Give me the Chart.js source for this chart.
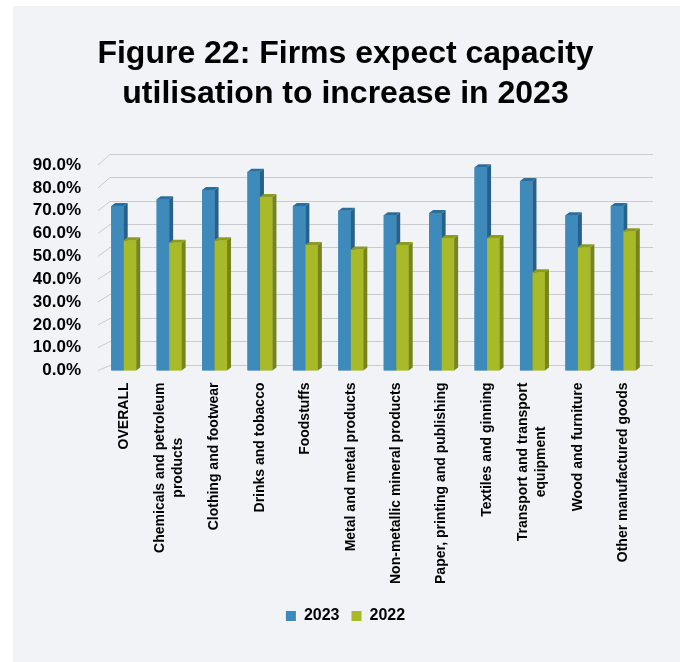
<!DOCTYPE html>
<html lang="en">
<head>
<meta charset="UTF-8">
<meta name="viewport" content="width=device-width, initial-scale=1.0">
<title>Figure 22: Capacity utilisation</title>
<style>
    html, body {
        margin: 0;
        padding: 0;
        background: #ffffff;
    }
    #panel {
        position: absolute;
        left: 13px;
        top: 6px;
        width: 667px;
        height: 656px;
        background: #f2f3f7;
    }
</style>
<script src="https://cdn.jsdelivr.net/npm/chart.js"></script>
</head>
<body>
<div id="panel">
    <canvas id="capacity-chart" width="667" height="656"></canvas>
</div>
<script>
// sectors and expected capacity utilisation (%)
const sectors = [
    'OVERALL',
    ['Chemicals and petroleum', 'products'],
    'Clothing and footwear',
    'Drinks and tobacco',
    'Foodstuffs',
    'Metal and metal products',
    'Non-metallic mineral products',
    'Paper, printing and publishing',
    'Textiles and ginning',
    ['Transport and transport', 'equipment'],
    'Wood and furniture',
    'Other manufactured goods'
];
const util2023 = [72, 75, 79, 87, 72, 70, 68, 69, 89, 83, 68, 72];
const util2022 = [57, 56, 57, 76, 55, 53, 55, 58, 58, 43, 54, 61];
const yTicks = [0, 10, 20, 30, 40, 50, 60, 70, 80, 90];

const FONT = "'Liberation Sans', Arial, sans-serif";
const LABEL_FONT = { family: FONT, size: 14, weight: 'bold', lineHeight: 1.3 };
const LABEL_PAD = 12;

// face shades for the 3d columns
const faces = [
    { front: '#3d8abb', side: '#27608a', top: '#2c6d9b' },
    { front: '#a9ba28', side: '#76841b', top: '#8c9c20' }
];
const depth = { dx: 4, dy: -3 };

function poly(ctx, pts, color) {
    ctx.beginPath();
    ctx.moveTo(pts[0][0], pts[0][1]);
    for (let i = 1; i < pts.length; i++) ctx.lineTo(pts[i][0], pts[i][1]);
    ctx.closePath();
    ctx.fillStyle = color;
    ctx.fill();
}

// back wall gridlines with the little slanted side-wall stubs
const wallGrid = {
    id: 'wallGrid',
    beforeDatasetsDraw(chart) {
        const { ctx, chartArea, scales: { y } } = chart;
        const base = y.getPixelForValue(0);
        ctx.save();
        ctx.strokeStyle = '#cacaca';
        ctx.lineWidth = 1;
        yTicks.forEach(v => {
            const yf = y.getPixelForValue(v);
            const yw = Math.round(base - 6 - (base - yf) * 1.025) + 0.5;
            ctx.beginPath();
            ctx.moveTo(chartArea.left - 3, yf);
            ctx.lineTo(chartArea.left + 9, yw);
            ctx.lineTo(chartArea.right + 7, yw);
            ctx.stroke();
        });
        ctx.restore();
    }
};

// redraw each column with a side and a top face, category by category
const columns3d = {
    id: 'columns3d',
    afterDatasetsDraw(chart) {
        const ctx = chart.ctx;
        const metas = chart.data.datasets.map((d, i) => chart.getDatasetMeta(i));
        ctx.save();
        for (let i = 0; i < sectors.length; i++) {
            metas.forEach((meta, di) => {
                const { x, y, base, width } = meta.data[i].getProps(['x', 'y', 'base', 'width'], true);
                const l = x - width / 2;
                const r = x + width / 2;
                const c = faces[di];
                ctx.fillStyle = c.front;
                ctx.fillRect(l, y, width, base - y);
                poly(ctx, [[r, y], [r + depth.dx, y + depth.dy], [r + depth.dx, base + depth.dy], [r, base]], c.side);
                poly(ctx, [[l, y], [l + depth.dx, y + depth.dy], [r + depth.dx, y + depth.dy], [r, y]], c.top);
            });
        }
        ctx.restore();
    }
};

// category labels: the axis keeps their room, this draws them with
// wrapped lines centred on each other
const sectorLabels = {
    id: 'sectorLabels',
    afterDraw(chart) {
        const { ctx, scales: { x } } = chart;
        const lineH = LABEL_FONT.size * LABEL_FONT.lineHeight;
        ctx.save();
        ctx.font = `${LABEL_FONT.weight} ${LABEL_FONT.size}px ${LABEL_FONT.family}`;
        ctx.fillStyle = '#000';
        ctx.textAlign = 'center';
        ctx.textBaseline = 'middle';
        sectors.forEach((label, i) => {
            const lines = Array.isArray(label) ? label : [label];
            const maxW = Math.max(...lines.map(s => ctx.measureText(s).width));
            ctx.save();
            ctx.translate(x.getPixelForValue(i), x.top + LABEL_PAD);
            ctx.rotate(-Math.PI / 2);
            lines.forEach((s, j) => {
                ctx.fillText(s, -maxW / 2, (j - (lines.length - 1) / 2) * lineH);
            });
            ctx.restore();
        });
        ctx.restore();
    }
};

const ctx = document.getElementById('capacity-chart').getContext('2d');
new Chart(ctx, {
    type: 'bar',
    data: {
        labels: sectors,
        datasets: [
            { label: '2023', data: util2023, backgroundColor: faces[0].front },
            { label: '2022', data: util2022, backgroundColor: faces[1].front }
        ]
    },
    options: {
        responsive: false,
        animation: false,
        categoryPercentage: 0.55,
        barPercentage: 1.0,
        layout: { padding: { left: 10, right: 12, top: 0, bottom: 28 } },
        scales: {
            x: {
                grid: { display: false, drawTicks: false },
                border: { display: false },
                ticks: {
                    autoSkip: false,
                    maxRotation: 90,
                    minRotation: 90,
                    padding: LABEL_PAD,
                    color: 'transparent',
                    font: LABEL_FONT
                }
            },
            y: {
                min: 0,
                max: 90,
                grid: { display: false, drawTicks: false },
                border: { display: false },
                afterFit: scale => { scale.width = 78; },
                ticks: {
                    stepSize: 10,
                    autoSkip: false,
                    padding: 20,
                    color: '#000',
                    font: { family: FONT, size: 17, weight: 'bold' },
                    callback: v => v.toFixed(1) + '%'
                }
            },
            // empty right-hand axis, only keeps the gap beside the back wall
            yRight: {
                position: 'right',
                grid: { display: false, drawTicks: false },
                border: { display: false },
                ticks: { display: false },
                afterFit: scale => { scale.width = 22; }
            }
        },
        plugins: {
            title: {
                display: true,
                text: ['Figure 22: Firms expect capacity', 'utilisation to increase in 2023'],
                color: '#000',
                font: { family: FONT, size: 32, weight: 'bold', lineHeight: 1.25 },
                padding: { top: 28, bottom: 51 }
            },
            legend: {
                position: 'bottom',
                labels: {
                    boxWidth: 10,
                    boxHeight: 10,
                    padding: 12,
                    color: '#000',
                    font: { family: FONT, size: 16, weight: 'bold' }
                }
            },
            tooltip: { enabled: false }
        }
    },
    plugins: [wallGrid, columns3d, sectorLabels]
});
</script>
</body>
</html>
